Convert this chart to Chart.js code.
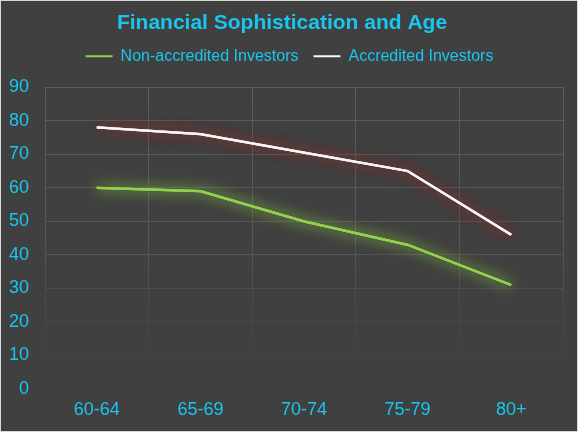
<!DOCTYPE html>
<html>
<head>
<meta charset="utf-8">
<script src="https://cdn.jsdelivr.net/npm/chart.js@4/dist/chart.umd.min.js"></script>
<style>
  html, body { margin: 0; padding: 0; background: #404040; }
  #wrap {
    width: 578px; height: 432px; box-sizing: border-box;
    border: 1px solid #d9d9d9; background: #404040;
  }
  canvas { display: block; }
</style>
</head>
<body>
<div id="wrap"><canvas id="chart" width="576" height="430"></canvas></div>
<script>
// ---- data ----
const ageGroups     = ['60-64', '65-69', '70-74', '75-79', '80+'];
const nonAccredited = [60, 59, 50, 43, 31];
const accredited    = [78, 76, 70.5, 65, 46];
const yTicks        = [0, 10, 20, 30, 40, 50, 60, 70, 80, 90];

const CYAN  = '#19c6f0';
const GREEN = '#92d050';
const WHITE = '#f7f7f7';
const LEGEND_PAD = 15;

// soft glow behind each line (a few passes so the halo shows up)
const glowPlugin = {
  id: 'glow',
  beforeDatasetDraw(chart, args) {
    const ds = chart.data.datasets[args.index];
    const ctx = chart.ctx;
    ctx.save();
    ctx.shadowColor = ds.glowColor;
    ctx.shadowBlur = 14;
    args.meta.controller.draw();
    args.meta.controller.draw();
  },
  afterDatasetDraw(chart) {
    chart.ctx.restore();
  }
};

// more room under the legend, and centre the row without the trailing padding
const legendGap = {
  id: 'legendGap',
  beforeInit(chart) {
    const fit = chart.legend.fit;
    chart.legend.fit = function () {
      fit.call(this);
      this.height += 13;
      if (this.lineWidths) this.lineWidths = this.lineWidths.map(w => w - LEGEND_PAD);
    };
  }
};

// grid fades out toward the bottom of the plot
function gridGradient(context) {
  const chart = context.chart;
  const area = chart.chartArea;
  if (!area) return '#595959';
  const g = chart.ctx.createLinearGradient(0, area.top, 0, area.bottom);
  g.addColorStop(0, '#5e5e5e');
  g.addColorStop(0.55, '#555555');
  g.addColorStop(0.9, '#404040');
  g.addColorStop(1, '#404040');
  return g;
}

new Chart(document.getElementById('chart'), {
  type: 'line',
  data: {
    labels: ageGroups,
    datasets: [
      {
        label: 'Non-accredited Investors',
        data: nonAccredited,
        borderColor: GREEN,
        backgroundColor: GREEN,
        glowColor: 'rgba(150, 215, 70, 0.6)',
        borderWidth: 2.2,
        pointRadius: 0,
        tension: 0,
      },
      {
        label: 'Accredited Investors',
        data: accredited,
        borderColor: WHITE,
        backgroundColor: WHITE,
        glowColor: 'rgba(140, 45, 45, 0.9)',
        borderWidth: 2.2,
        pointRadius: 0,
        tension: 0,
      },
    ],
  },
  options: {
    responsive: false,
    animation: false,
    layout: { padding: { left: 0, right: 14, top: 0, bottom: 0 } },
    plugins: {
      title: {
        display: true,
        text: 'Financial Sophistication and Age',
        color: CYAN,
        font: { family: 'Liberation Sans', size: 21, weight: 'bold' },
        padding: { top: 10, bottom: -3 },
      },
      legend: {
        display: true,
        position: 'top',
        labels: {
          color: CYAN,
          font: { family: 'Liberation Sans', size: 16 },
          boxWidth: 27,
          boxHeight: 2,
          padding: LEGEND_PAD,
          generateLabels(chart) {
            const items = Chart.defaults.plugins.legend.labels.generateLabels(chart);
            items.forEach(it => { it.lineWidth = 0; });
            return items;
          },
        },
      },
      tooltip: { enabled: false },
    },
    scales: {
      x: {
        offset: true,
        grid: { color: gridGradient, drawTicks: false, offset: true, lineWidth: 1 },
        border: { display: false },
        ticks: {
          color: CYAN,
          font: { family: 'Liberation Sans', size: 18 },
          padding: 10,
        },
        afterFit(scale) { scale.height = 42; },
      },
      y: {
        min: 0,
        max: 90,
        afterBuildTicks(scale) { scale.ticks = yTicks.map(v => ({ value: v })); },
        grid: { color: gridGradient, drawTicks: false, lineWidth: 1 },
        border: { display: false },
        ticks: {
          color: CYAN,
          font: { family: 'Liberation Sans', size: 18 },
          padding: 16,
        },
        afterFit(scale) { scale.width = 44; },
      },
    },
  },
  plugins: [glowPlugin, legendGap],
});
</script>
</body>
</html>
